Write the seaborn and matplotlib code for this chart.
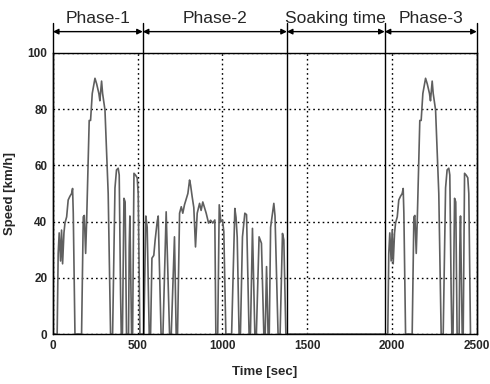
import matplotlib
matplotlib.use("Agg")
import matplotlib.pyplot as plt
import pandas as pd
import seaborn as sns

# Phase-1 (cold start) speed trace
t_phase1 = [0, 25, 31, 37, 45, 51, 57, 65, 71, 81,
            90, 100, 110, 116, 120, 130, 169, 179, 185, 193,
            199, 208, 214, 222, 232, 248, 258, 271, 277, 287,
            293, 307, 326, 340, 352, 366, 375, 385, 391, 399,
            403, 410, 419, 426, 434, 446, 450, 454, 464, 470,
            478, 488, 497, 503, 513]
v_phase1 = [0, 0, 28.7, 36, 26, 37, 25, 36, 39.5, 41.7,
            47.7, 49, 50, 51.8, 43, 0, 0, 41.7, 42.2, 28.7,
            40.5, 62, 76, 76, 85.6, 91, 89, 85.6, 83, 90,
            85.6, 79.7, 50, 0, 0, 52, 58.4, 59, 56.6, 14.5,
            0, 0, 48.3, 47, 0, 0, 31, 42, 0, 0,
            57.2, 56.5, 55.6, 50, 0]

# Phase-2 (stabilized)
t_phase2 = [536, 548, 556, 568, 576, 584, 595, 603, 615, 621,
            638, 649, 668, 688, 698, 717, 727, 735, 747, 757,
            766, 776, 786, 796, 806, 812, 821, 831, 841, 851,
            865, 874, 884, 894, 904, 918, 930, 943, 955, 961,
            972, 981, 990, 1000, 1008, 1020, 1054, 1073, 1080, 1087,
            1098, 1106, 1118, 1132, 1142, 1157, 1165, 1177, 1191, 1200,
            1216, 1230, 1244, 1252, 1260, 1269, 1276, 1284, 1303, 1310,
            1328, 1340, 1354, 1362, 1374]
v_phase2 = [0, 42, 38, 0, 0, 27, 28, 33.5, 40, 42,
            0, 0, 43.5, 0, 0, 34.6, 0, 0, 43, 45.3,
            43, 46, 48, 50, 54.8, 53, 49, 45, 31, 43,
            46.5, 44, 47, 45, 43, 39.5, 40.5, 39.5, 40.6, 0,
            0, 46, 40, 40.6, 36.5, 0, 0, 44.7, 41.5, 34.5,
            0, 0, 34.6, 43, 42.5, 0, 0, 37.6, 0, 0,
            34.6, 32.3, 0, 0, 24, 0, 0, 38, 46.5, 42,
            0, 0, 35.8, 33.5, 0]

# Phase-3 (hot start, same cycle as phase-1)
t_phase3 = [1975, 1981, 1987, 1995, 2001, 2007, 2015, 2021, 2031,
            2040, 2050, 2060, 2066, 2070, 2080, 2119, 2129, 2135, 2143,
            2149, 2158, 2164, 2172, 2182, 2198, 2208, 2221, 2227, 2237,
            2243, 2257, 2276, 2290, 2302, 2316, 2325, 2335, 2341, 2349,
            2353, 2360, 2369, 2376, 2384, 2396, 2400, 2404, 2414, 2420,
            2428, 2438, 2447, 2453, 2463]
v_phase3 = [0, 28.7, 36, 26, 37, 25, 36, 39.5, 41.7,
            47.7, 49, 50, 51.8, 43, 0, 0, 41.7, 42.2, 28.7,
            40.5, 62, 76, 76, 85.6, 91, 89, 85.6, 83, 90,
            85.6, 79.7, 50, 0, 0, 52, 58.4, 59, 56.6, 14.5,
            0, 0, 48.3, 47, 0, 0, 31, 42, 0, 0,
            57.2, 56.5, 55.6, 50, 0]

phase_names = ["Phase-1", "Phase-2", "Soaking time", "Phase-3"]
phase_edges = [0, 530, 1380, 1957, 2500]

df = pd.DataFrame({"Time": t_phase1 + t_phase2 + t_phase3,
                   "Speed": v_phase1 + v_phase2 + v_phase3})

sns.set_style("white")
plt.rcParams['font.family'] = ['Liberation Sans', 'DejaVu Sans']

fig, ax = plt.subplots(figsize=(4.9, 3.84), dpi=100)
fig.subplots_adjust(left=0.108, right=0.973, bottom=0.13, top=0.862)

sns.lineplot(x="Time", y="Speed", data=df, sort=False, estimator=None,
             color="#5f5f5f", linewidth=1.2, ax=ax)

ax.set_xlim(0, 2500)
ax.set_ylim(0, 100)
ax.set_xticks(range(0, 2501, 500))
ax.set_yticks(range(0, 101, 20))
ax.grid(True, color="black", linestyle=(0, (1.2, 2.2)), linewidth=1.0)
ax.tick_params(length=0, pad=4, labelsize=8.5)
for lab in ax.get_xticklabels() + ax.get_yticklabels():
    lab.set_fontweight("bold")
for s in ax.spines.values():
    s.set_color("black")
    s.set_linewidth(1.0)

ax.set_xlabel("Time [sec]", fontsize=9.5, fontweight="bold", labelpad=10)
ax.set_ylabel("Speed [km/h]", fontsize=9.5, fontweight="bold", labelpad=8)

# phase separators, arrows and names above the plot
for e in phase_edges:
    ax.plot([e, e], [0, 110.7], color="black", linewidth=1.0, clip_on=False)
for i, name in enumerate(phase_names):
    a, b = phase_edges[i], phase_edges[i + 1]
    ax.annotate("", xy=(b, 107.6), xytext=(a, 107.6), annotation_clip=False,
                arrowprops=dict(arrowstyle="<|-|>", color="black", lw=1.0,
                                mutation_scale=8, shrinkA=0, shrinkB=0))
    ax.text((a + b) / 2, 110.8, name, ha="center", va="baseline", fontsize=12.5)

fig.savefig("out.png", dpi=100)
